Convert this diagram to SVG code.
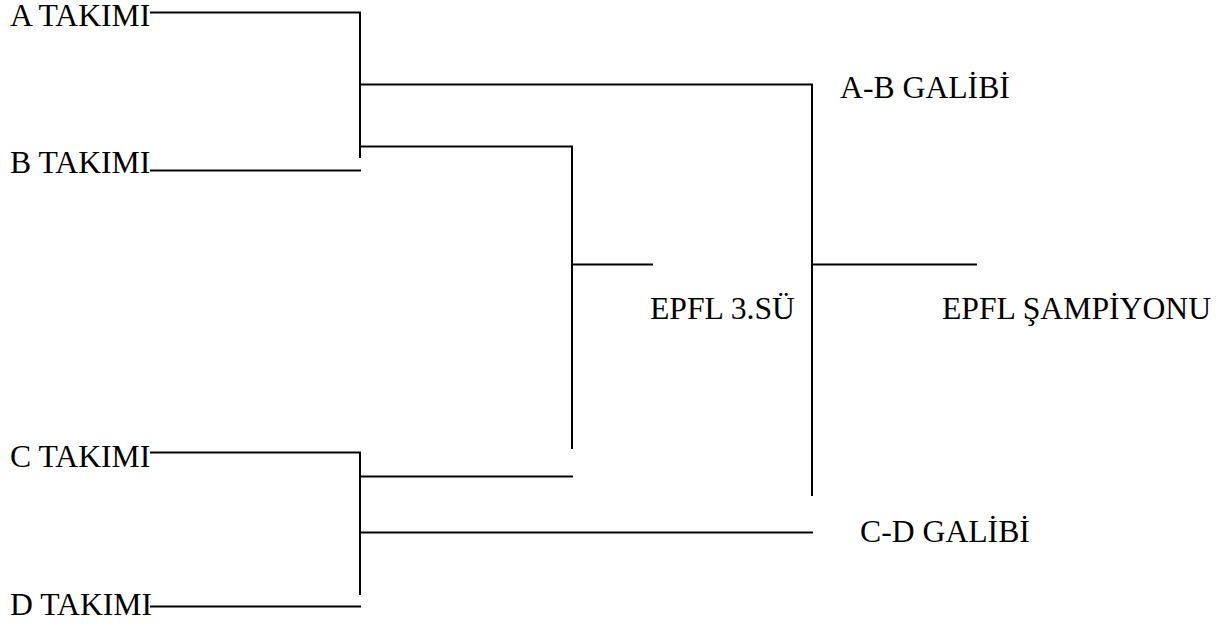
<svg xmlns="http://www.w3.org/2000/svg" width="1228" height="626" viewBox="0 0 1228 626">
<style>
text{font-family:"Liberation Serif","Times New Roman",serif;font-size:31.7px;fill:#000}
.c line{stroke:#000;stroke-width:2;fill:none}
</style>
<rect width="1228" height="626" fill="#fff"/>
<g class="c" id="connectors">
<line x1="150" y1="12.5" x2="361" y2="12.5"/>
<line x1="360" y1="12" x2="360" y2="158"/>
<line x1="150" y1="170.5" x2="361" y2="170.5"/>
<line x1="360" y1="84.5" x2="813" y2="84.5"/>
<line x1="812" y1="84" x2="812" y2="496"/>
<line x1="360" y1="146.5" x2="573" y2="146.5"/>
<line x1="572" y1="146" x2="572" y2="449"/>
<line x1="572" y1="264.5" x2="653" y2="264.5"/>
<line x1="812" y1="264.5" x2="977" y2="264.5"/>
<line x1="150" y1="452.5" x2="361" y2="452.5"/>
<line x1="360" y1="452" x2="360" y2="595"/>
<line x1="360" y1="476.5" x2="573" y2="476.5"/>
<line x1="360" y1="532.5" x2="813" y2="532.5"/>
<line x1="150" y1="606.5" x2="361" y2="606.5"/>
</g>
<g id="teamA"><text x="10" y="26">A TAKIMI</text></g>
<g id="teamB"><text x="10" y="173">B TAKIMI</text></g>
<g id="teamC"><text x="10" y="467">C TAKIMI</text></g>
<g id="teamD"><text x="10" y="615">D TAKIMI</text></g>
<g id="winnerAB"><text x="840" y="97.5">A-B GALİBİ</text></g>
<g id="winnerCD"><text x="860" y="541.5">C-D GALİBİ</text></g>
<g id="third"><text x="650" y="319">EPFL 3.SÜ</text></g>
<g id="champion"><text x="942" y="319">EPFL ŞAMPİYONU</text></g>
</svg>
